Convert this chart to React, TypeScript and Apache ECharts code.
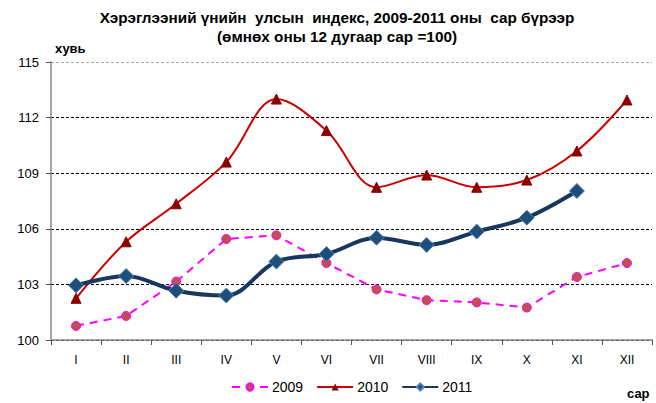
import React, { useEffect, useRef } from "react";
import * as echarts from "echarts";

const months = ["I", "II", "III", "IV", "V", "VI", "VII", "VIII", "IX", "X", "XI", "XII"];
const s2009 = [100.76, 101.3, 103.15, 105.45, 105.65, 104.15, 102.73, 102.15, 102.03, 101.75, 103.4, 104.15];
const s2010 = [102.25, 105.3, 107.35, 109.6, 113.0, 111.3, 108.24, 108.9, 108.24, 108.63, 110.2, 112.95];
const s2011 = [102.95, 103.45, 102.66, 102.4, 104.23, 104.64, 105.52, 105.13, 105.85, 106.6, 108.04, null];

const FONT = "'Liberation Sans', Arial, sans-serif";

export default function App() {
  const ref = useRef<HTMLDivElement>(null);
  useEffect(() => {
    const chart = echarts.init(ref.current!, null, { renderer: "svg" });
    chart.setOption({
      animation: false,
      textStyle: { fontFamily: FONT },
      graphic: [
        {
          type: "text",
          x: 337,
          y: 10,
          style: {
            text: "Хэрэглээний үнийн  улсын  индекс, 2009-2011 оны  сар бүрээр",
            font: `bold 15.3px ${FONT}`,
            fill: "#000",
            textAlign: "center",
          },
        },
        {
          type: "text",
          x: 337,
          y: 29,
          style: {
            text: "(өмнөх оны 12 дугаар сар =100)",
            font: `bold 15.3px ${FONT}`,
            fill: "#000",
            textAlign: "center",
          },
        },
        {
          type: "text",
          x: 55,
          y: 42,
          style: { text: "хувь", font: `bold 13px ${FONT}`, fill: "#000" },
        },
        {
          type: "text",
          x: 627,
          y: 387,
          style: { text: "сар", font: `bold 13px ${FONT}`, fill: "#000" },
        },
      ],
      legend: {
        bottom: 4,
        left: 226,
        itemWidth: 36,
        itemHeight: 9,
        itemGap: 13,
        textStyle: { fontSize: 14, fontFamily: FONT, color: "#000", padding: [0, 0, 0, -1] },
        data: ["2009", "2010", "2011"],
      },
      grid: { left: 51, right: 4, top: 62, bottom: 63 },
      xAxis: {
        type: "category",
        data: months,
        boundaryGap: true,
        axisLine: { lineStyle: { color: "#888", width: 1.5 } },
        axisTick: { show: true, interval: 0, length: 5, lineStyle: { color: "#555" } },
        axisLabel: { color: "#000", fontSize: 12, margin: 14, fontFamily: FONT },
      },
      yAxis: {
        type: "value",
        min: 100,
        max: 115,
        interval: 3,
        axisLine: { show: true, lineStyle: { color: "#888", width: 1.5 } },
        axisTick: { show: true, length: 5, lineStyle: { color: "#555" } },
        axisLabel: { color: "#000", fontSize: 13, margin: 12, fontFamily: FONT },
        splitLine: {
          show: true,
          lineStyle: {
            type: [3, 2],
            color: ["#000", "#000", "#000", "#000", "#000", "#aaa"],
            width: 1,
          },
        },
      },
      series: [
        {
          name: "2009",
          type: "line",
          data: s2009,
          smooth: false,
          symbol: "circle",
          symbolSize: 9,
          lineStyle: { color: "#FF00FF", width: 2, type: [8, 6] },
          itemStyle: { color: "#C0504D", borderColor: "#FF00FF", borderWidth: 1 },
          z: 2,
        },
        {
          name: "2010",
          type: "line",
          data: s2010,
          smooth: 0.35,
          symbol: "triangle",
          symbolSize: 10,
          lineStyle: { color: "#CC0000", width: 2 },
          itemStyle: { color: "#8B0000", borderColor: "#8B0000" },
          z: 3,
        },
        {
          name: "2011",
          type: "line",
          data: s2011,
          smooth: 0.35,
          symbol: "diamond",
          symbolSize: 15,
          lineStyle: { color: "#17375E", width: 4 },
          itemStyle: { color: "#1F4E79", borderColor: "#4F81BD", borderWidth: 1 },
          z: 4,
        },
      ],
    });
    return () => chart.dispose();
  }, []);
  return <div ref={ref} style={{ width: 656, height: 403, position: "absolute", left: 0, top: 0 }} />;
}
